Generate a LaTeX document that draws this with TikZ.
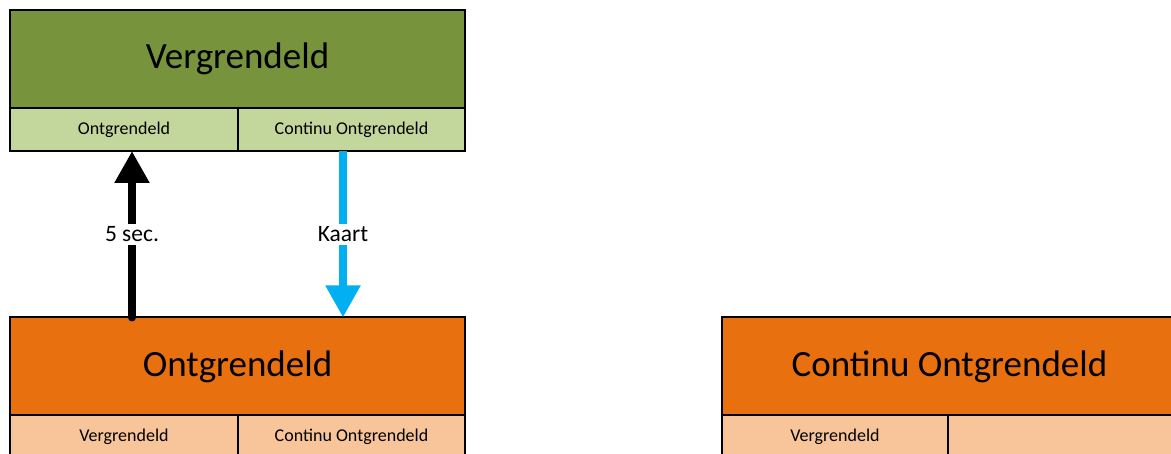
\documentclass[tikz,border=0pt]{standalone}
\usepackage{fontspec}
\setmainfont{Carlito}
\usepackage{tikz}
\usetikzlibrary{arrows.meta}

\definecolor{kopgroen}{HTML}{77933C}
\definecolor{celgroen}{HTML}{C3D69B}
\definecolor{koporanje}{HTML}{E8700E}
\definecolor{celoranje}{HTML}{F8C49A}
\definecolor{kaartblauw}{HTML}{00B0F0}

\tikzset{
	kop/.style={draw=black,line width=2pt,inner sep=0pt,outer sep=0pt,minimum width=455pt,minimum height=98pt,font=\fontsize{37}{40}\selectfont},
	cel/.style={draw=black,line width=2pt,inner sep=0pt,outer sep=0pt,minimum height=43pt,font=\fontsize{18}{20}\selectfont},
	overgang/.style={line width=8pt,-{Triangle[width=33pt,length=32pt]}},
	label/.style={fill=white,text=black,inner sep=3pt,font=\fontsize{23.5}{26}\selectfont}
}

\begin{document}
\begin{tikzpicture}[x=1pt,y=-1pt]
	\useasboundingbox (0,0) rectangle (1171,454);
	\clip (0,0) rectangle (1171,454);

	% Vergrendeld
	\node[kop,fill=kopgroen] (vergr) at (237.5,59) {Vergrendeld};
	\node[cel,fill=celgroen,minimum width=228pt] (vergr-a) at (124,129.5) {Ontgrendeld};
	\node[cel,fill=celgroen,minimum width=227pt] (vergr-b) at (351.5,129.5) {Continu Ontgrendeld};

	% Ontgrendeld
	\node[kop,fill=koporanje] (ontgr) at (237.5,366.5) {Ontgrendeld};
	\node[cel,fill=celoranje,minimum width=228pt] (ontgr-a) at (124,436.5) {Vergrendeld};
	\node[cel,fill=celoranje,minimum width=227pt] (ontgr-b) at (351.5,436.5) {Continu Ontgrendeld};

	% Continu Ontgrendeld
	\node[kop,fill=koporanje] (cont) at (949.5,366.5) {Continu Ontgrendeld};
	\node[cel,fill=celoranje,minimum width=226pt] (cont-a) at (835,436.5) {Vergrendeld};
	\node[cel,fill=celoranje,minimum width=229pt] (cont-b) at (1062.5,436.5) {};

	% overgangen
	\draw[overgang,black,line cap=round] ([xshift=8pt]vergr-a.south |- ontgr.north) -- node[label] (tijd) {5 sec.} ([xshift=8pt]vergr-a.south);
	\draw[overgang,kaartblauw] ([xshift=-8.5pt]vergr-b.south) -- node[label] (kaart) {Kaart} ([xshift=-8.5pt]vergr-b.south |- ontgr.north);
\end{tikzpicture}
\end{document}
